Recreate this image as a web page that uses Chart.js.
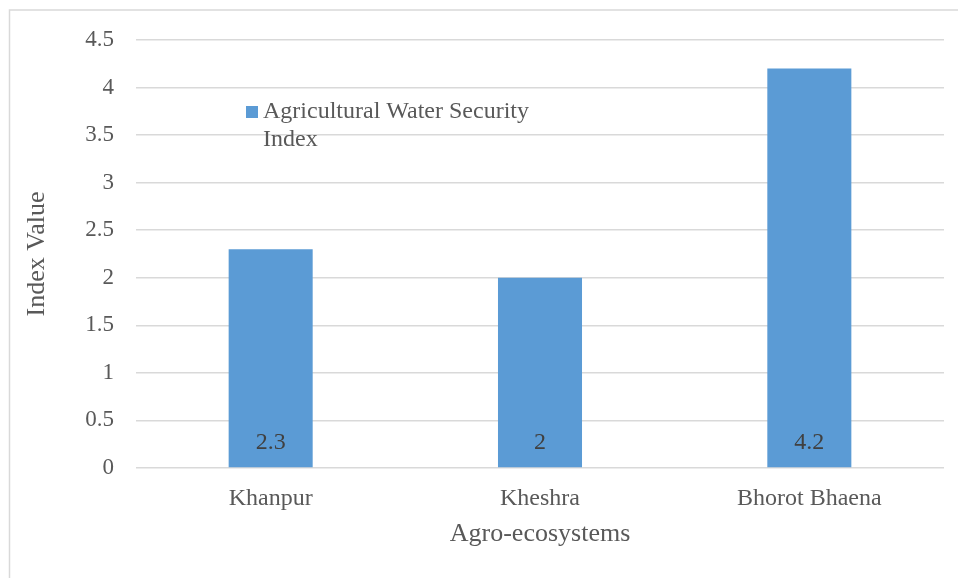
<!DOCTYPE html>
<html>

<head>
  <meta charset="utf-8">
  <title>Agricultural Water Security Index</title>
  <style>
    body { margin: 0; background: #fff; }
    #chart { display: block; }
  </style>
</head>

<body>
  <canvas id="chart" width="958" height="578"></canvas>

  <script src="https://cdn.jsdelivr.net/npm/chart.js"></script>
  <script>
    // agro-ecosystems and their index values
    const sites = ['Khanpur', 'Kheshra', 'Bhorot Bhaena'];
    const indexValues = [2.3, 2, 4.2];
    const seriesName = ['Agricultural Water Security', 'Index'];
    const yTicks = [0, 0.5, 1, 1.5, 2, 2.5, 3, 3.5, 4, 4.5];

    const serif = "'Liberation Serif', 'Times New Roman', serif";
    const barColor = '#5b9bd5';

    // light frame around the whole figure
    const framePlugin = {
      id: 'frame',
      beforeDraw(chart) {
        const ctx = chart.ctx;
        ctx.save();
        ctx.strokeStyle = '#d9d9d9';
        ctx.lineWidth = 1.5;
        ctx.strokeRect(9.5, 10, chart.width + 20, chart.height + 20);
        ctx.restore();
      }
    };

    // value written near the foot of each bar
    const valuePlugin = {
      id: 'values',
      afterDatasetsDraw(chart) {
        const ctx = chart.ctx;
        const meta = chart.getDatasetMeta(0);
        const y0 = chart.scales.y.getPixelForValue(0);
        ctx.save();
        ctx.font = '24px ' + serif;
        ctx.fillStyle = '#404040';
        ctx.textAlign = 'center';
        ctx.textBaseline = 'middle';
        meta.data.forEach((bar, i) => {
          ctx.fillText(String(indexValues[i]), bar.x, y0 - 25);
        });
        ctx.restore();
      }
    };

    // legend box sitting inside the plot area, text on two lines
    const legendPlugin = {
      id: 'insideLegend',
      afterDraw(chart) {
        const ctx = chart.ctx;
        const area = chart.chartArea;
        const x = area.left + 110;
        const y = area.top + 66;
        ctx.save();
        ctx.fillStyle = barColor;
        ctx.fillRect(x, y, 12, 12);
        ctx.font = '24px ' + serif;
        ctx.fillStyle = '#595959';
        ctx.textAlign = 'left';
        ctx.textBaseline = 'middle';
        seriesName.forEach((line, i) => {
          ctx.fillText(line, x + 17, y + 6 + i * 28);
        });
        ctx.restore();
      }
    };

    new Chart(document.getElementById('chart'), {
      type: 'bar',
      data: {
        labels: sites,
        datasets: [{
          label: seriesName.join(' '),
          data: indexValues,
          backgroundColor: barColor,
          categoryPercentage: 1,
          barPercentage: 0.312
        }]
      },
      options: {
        responsive: false,
        animation: false,
        devicePixelRatio: 1,
        layout: { padding: { left: 22, right: 14, top: 40, bottom: 28 } },
        plugins: {
          legend: { display: false },
          tooltip: { enabled: false }
        },
        scales: {
          x: {
            grid: { display: false },
            border: { display: false },
            ticks: {
              color: '#595959',
              font: { family: serif, size: 24 },
              padding: 8
            },
            title: {
              display: true,
              text: 'Agro-ecosystems',
              color: '#595959',
              font: { family: serif, size: 26 },
              padding: 0
            },
            afterFit(scale) { scale.height = 82; }
          },
          y: {
            min: 0,
            max: 4.5,
            afterBuildTicks(scale) {
              scale.ticks = yTicks.map(v => ({ value: v }));
            },
            grid: { color: '#d9d9d9', lineWidth: 1.5, drawTicks: false },
            border: { display: false },
            ticks: {
              color: '#595959',
              font: { family: serif, size: 23 },
              padding: 22,
              callback: v => String(v)
            },
            title: {
              display: true,
              text: 'Index Value',
              color: '#595959',
              font: { family: serif, size: 26 },
              padding: 0
            },
            afterFit(scale) { scale.width = 114; }
          }
        }
      },
      plugins: [framePlugin, valuePlugin, legendPlugin]
    });
  </script>
</body>

</html>
